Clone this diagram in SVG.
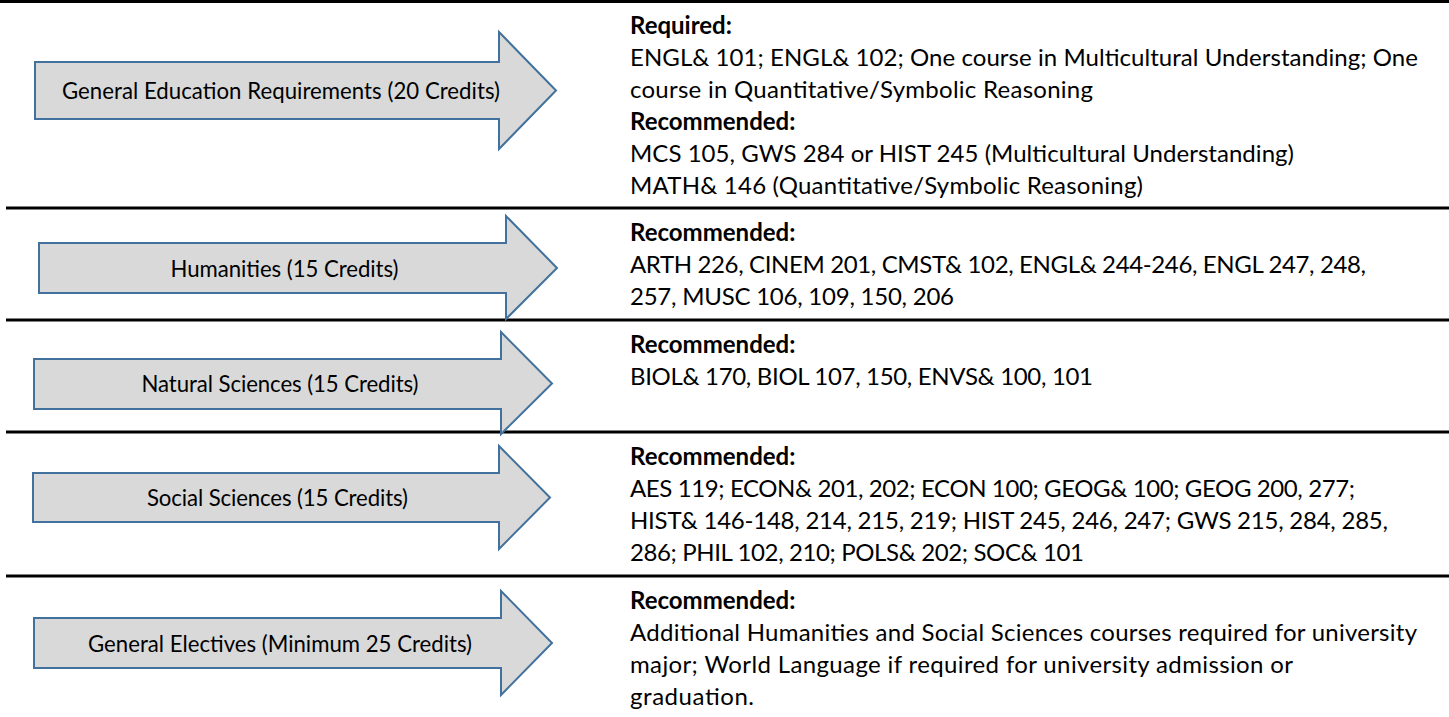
<svg xmlns="http://www.w3.org/2000/svg" width="1449" height="717" viewBox="0 0 1449 717">
<style>
.arrow{fill:#d9d9d9;stroke:#41719c;stroke-width:2;stroke-linejoin:miter}
.lbl{font-family:Lato,"Open Sans",sans-serif;font-size:22.2px;fill:#000;text-anchor:middle}
.txt{font-family:Lato,"Open Sans",sans-serif;font-size:24px;fill:#000}
.b{font-weight:bold}
.sep{stroke:#000;stroke-width:3}
</style>
<rect width="1449" height="717" fill="#fff"/>
<g id="separators">
<line class="sep" x1="0" y1="1.5" x2="1449" y2="1.5"/>
<line class="sep" x1="6" y1="208" x2="1449" y2="208"/>
<line class="sep" x1="6" y1="320" x2="1449" y2="320"/>
<line class="sep" x1="6" y1="432" x2="1449" y2="432"/>
<line class="sep" x1="6" y1="576" x2="1449" y2="576"/>
</g>
<g id="node-gened">
<polygon class="arrow" points="35,62 499,62 499,32 556,90.5 499,149 499,119 35,119"/>
<text class="lbl" x="281" y="99" textLength="438">General Education Requirements (20 Credits)</text>
</g>
<g id="node-humanities">
<polygon class="arrow" points="39,243 506,243 506,216 557,268 506,319 506,293 39,293"/>
<text class="lbl" x="284.5" y="277" textLength="228">Humanities (15 Credits)</text>
</g>
<g id="node-natsci">
<polygon class="arrow" points="34,359 501,359 501,332 552,383.5 501,434 501,409 34,409"/>
<text class="lbl" x="280" y="392" textLength="277">Natural Sciences (15 Credits)</text>
</g>
<g id="node-socsci">
<polygon class="arrow" points="33,473 499,473 499,446 550,497.5 499,549 499,522 33,522"/>
<text class="lbl" x="277.5" y="506" textLength="261">Social Sciences (15 Credits)</text>
</g>
<g id="node-electives">
<polygon class="arrow" points="34,618 501,618 501,591 552,643 501,695 501,668 34,668"/>
<text class="lbl" x="280" y="652" textLength="384">General Electives (Minimum 25 Credits)</text>
</g>
<g id="text-gened">
<text class="txt b" x="630" y="34">Required:</text>
<text class="txt" x="630" y="66" textLength="788">ENGL&amp; 101; ENGL&amp; 102; One course in Multicultural Understanding; One</text>
<text class="txt" x="630" y="98" textLength="463">course in Quantitative/Symbolic Reasoning</text>
<text class="txt b" x="630" y="130">Recommended:</text>
<text class="txt" x="630" y="162" textLength="664">MCS 105, GWS 284 or HIST 245 (Multicultural Understanding)</text>
<text class="txt" x="630" y="194" textLength="513">MATH&amp; 146 (Quantitative/Symbolic Reasoning)</text>
</g>
<g id="text-humanities">
<text class="txt b" x="630" y="240.5">Recommended:</text>
<text class="txt" x="630" y="272.5" textLength="736">ARTH 226, CINEM 201, CMST&amp; 102, ENGL&amp; 244-246, ENGL 247, 248,</text>
<text class="txt" x="630" y="304.5" textLength="324">257, MUSC 106, 109, 150, 206</text>
</g>
<g id="text-natsci">
<text class="txt b" x="630" y="352.5">Recommended:</text>
<text class="txt" x="630" y="384.5" textLength="463">BIOL&amp; 170, BIOL 107, 150, ENVS&amp; 100, 101</text>
</g>
<g id="text-socsci">
<text class="txt b" x="630" y="464.5">Recommended:</text>
<text class="txt" x="630" y="496.5" textLength="725">AES 119; ECON&amp; 201, 202; ECON 100; GEOG&amp; 100; GEOG 200, 277;</text>
<text class="txt" x="630" y="528.5" textLength="758">HIST&amp; 146-148, 214, 215, 219; HIST 245, 246, 247; GWS 215, 284, 285,</text>
<text class="txt" x="630" y="560.5" textLength="454">286; PHIL 102, 210; POLS&amp; 202; SOC&amp; 101</text>
</g>
<g id="text-electives">
<text class="txt b" x="630" y="608.5">Recommended:</text>
<text class="txt" x="630" y="640.5" textLength="787">Additional Humanities and Social Sciences courses required for university</text>
<text class="txt" x="630" y="672.5" textLength="663">major; World Language if required for university admission or</text>
<text class="txt" x="630" y="704.5" textLength="124">graduation.</text>
</g>
</svg>
